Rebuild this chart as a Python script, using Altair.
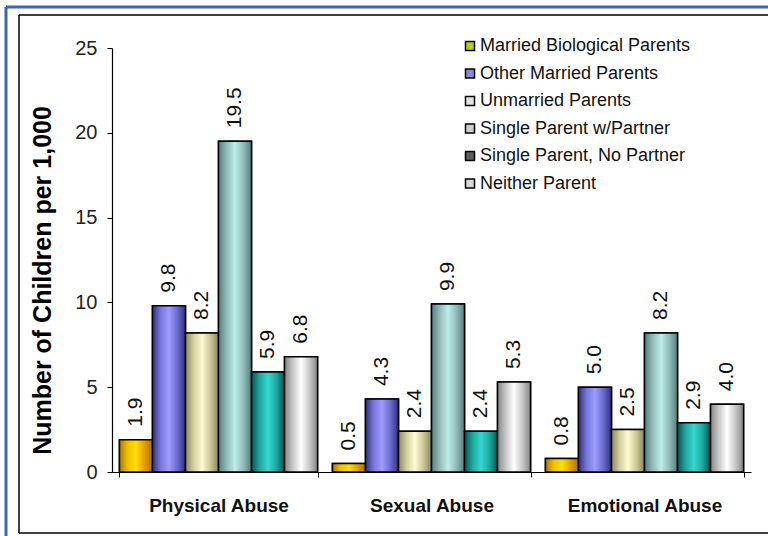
import altair as alt
import pandas as pd

categories = ["Physical Abuse", "Sexual Abuse", "Emotional Abuse"]
series = [
    "Married Biological Parents",
    "Other Married Parents",
    "Unmarried Parents",
    "Single Parent w/Partner",
    "Single Parent, No Partner",
    "Neither Parent",
]
physical = [1.9, 9.8, 8.2, 19.5, 5.9, 6.8]
sexual = [0.5, 4.3, 2.4, 9.9, 2.4, 5.3]
emotional = [0.8, 5.0, 2.5, 8.2, 2.9, 4.0]

legend_colors = ["#b8d000", "#8a8ad8", "#e2e2e2", "#cdcdcd", "#5e5e5e", "#d8d8d8"]
gradient_stops = [
    ["#a87c00", "#f0c000", "#ffdc10", "#e8a000", "#a87000"],
    ["#30307a", "#7878dc", "#9c9cff", "#6c6cd0", "#30307a"],
    ["#8a8660", "#d4d0a0", "#fffbd2", "#ccc898", "#8a8660"],
    ["#547e7c", "#92bcb8", "#bceeea", "#92bcb8", "#547e7c"],
    ["#0a5454", "#20a8a0", "#34d8d0", "#20a8a0", "#0a5454"],
    ["#858585", "#c8c8c8", "#ffffff", "#c8c8c8", "#858585"],
]

rows = []
for cat, vals in zip(categories, [physical, sexual, emotional]):
    for s, v in zip(series, vals):
        rows.append({"category": cat, "series": s, "value": v})
df = pd.DataFrame(rows)

FONT = "Liberation Sans"

x_enc = alt.X(
    "category:N",
    sort=categories,
    scale=alt.Scale(paddingInner=0.07, paddingOuter=0.035),
    axis=alt.Axis(
        title=None,
        labelAngle=0,
        labelFont=FONT,
        labelFontSize=19,
        labelFontWeight="bold",
        labelColor="#111111",
        labelPadding=19,
        tickBand="extent",
        tickSize=5,
        tickColor="black",
        domainColor="black",
        domainWidth=1.2,
        grid=False,
    ),
)
xo_enc = alt.XOffset(
    "series:N", sort=series, scale=alt.Scale(domain=series, paddingInner=0, paddingOuter=0)
)
y_enc = alt.Y(
    "value:Q",
    scale=alt.Scale(domain=[0, 25], nice=False),
    axis=alt.Axis(
        title="Number of Children per 1,000",
        titleFont=FONT,
        titleFontSize=25,
        titleFontWeight="bold",
        titleColor="black",
        titleAngle=270,
        titleAlign="center",
        titleBaseline="middle",
        titleX=-70,
        titleY=232,
        values=[0, 5, 10, 15, 20, 25],
        labelFont=FONT,
        labelFontSize=20,
        labelColor="#222222",
        labelPadding=10,
        tickSize=5,
        tickColor="black",
        domainColor="black",
        domainWidth=1.2,
        grid=False,
    ),
)

base = alt.Chart(df)

under = base.mark_bar(stroke="black", strokeWidth=1.5).encode(
    x=x_enc,
    xOffset=xo_enc,
    y=y_enc,
    color=alt.Color(
        "series:N",
        sort=series,
        scale=alt.Scale(domain=series, range=legend_colors),
        legend=alt.Legend(
            title=None,
            orient="none",
            legendX=349,
            legendY=-11,
            padding=0,
            symbolType="square",
            symbolSize=81,
            symbolStrokeColor="black",
            symbolStrokeWidth=1.5,
            symbolOpacity=1,
            labelFont=FONT,
            labelFontSize=18,
            labelColor="#111111",
            labelOffset=1,
            labelLimit=400,
            rowPadding=9.5,
        ),
    ),
)

overlays = []
for s, cols in zip(series, gradient_stops):
    n = len(cols)
    grad = alt.Gradient(
        gradient="linear",
        x1=0, x2=1, y1=0, y2=0,
        stops=[alt.GradientStop(offset=i / (n - 1), color=c) for i, c in enumerate(cols)],
    )
    overlays.append(
        base.transform_filter(alt.datum.series == s)
        .mark_bar(fill=grad, stroke="black", strokeWidth=1.5)
        .encode(x=alt.X("category:N", sort=categories), xOffset=alt.XOffset("series:N", sort=series), y="value:Q")
    )

labels = base.mark_text(
    angle=270, align="left", baseline="middle", dx=13, font=FONT, fontSize=21, color="#111111"
).encode(
    x=alt.X("category:N", sort=categories),
    xOffset=alt.XOffset("series:N", sort=series),
    y="value:Q",
    text=alt.Text("value:Q", format=".1f"),
)

one = alt.Data(values=[{}])
blue = "#3a6aaa"
frame = [
    alt.Chart(one).mark_rule(color=blue, strokeWidth=3).encode(
        x=alt.value(-106), y=alt.value(-41), y2=alt.value(500)),
    alt.Chart(one).mark_rule(color=blue, strokeWidth=3).encode(
        x=alt.value(-106), x2=alt.value(700), y=alt.value(-41)),
    alt.Chart(one).mark_rule(color="black", strokeWidth=1.5).encode(
        x=alt.value(-93), y=alt.value(-33), y2=alt.value(485)),
    alt.Chart(one).mark_rule(color="black", strokeWidth=1.5).encode(
        x=alt.value(-93), x2=alt.value(700), y=alt.value(-33)),
    alt.Chart(one).mark_rule(color="black", strokeWidth=1.5).encode(
        x=alt.value(-93), x2=alt.value(700), y=alt.value(485)),
]

chart = alt.layer(under, *overlays, labels, *frame).properties(
    width=639,
    height=424,
    autosize=alt.AutoSizeParams(type="none"),
    padding={"left": 112, "top": 48, "right": 17, "bottom": 64},
    background="white",
).configure_view(strokeWidth=0)

chart.save("out.html", embed_options={"renderer": "svg", "actions": False})
